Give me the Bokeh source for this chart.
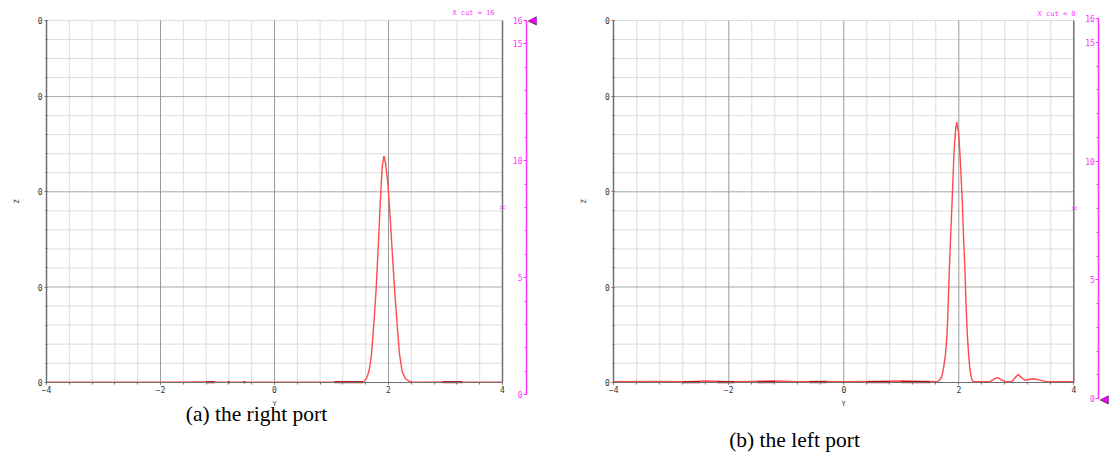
import numpy as np
from bokeh.plotting import figure
from bokeh.layouts import row
from bokeh.models import Range1d, LinearAxis, FixedTicker, Label
from bokeh.embed import file_html
from bokeh.resources import INLINE

# ---------------- data ----------------
# (a) the right port : field profile along Y at X cut = 16
x_a = [-4.0, -3.0, -2.0, -1.2, -1.1, -1.0, 0.0, 1.0, 1.3, 1.5, 1.57, 1.62, 1.66, 1.70,
       1.74, 1.78, 1.82, 1.86, 1.89, 1.92, 1.95, 1.99, 2.03, 2.07, 2.11, 2.15, 2.19,
       2.24, 2.30, 2.36, 2.42, 2.6, 3.0, 3.2, 4.0]
z_a = [0.0, 0.0, 0.0, 0.001, 0.001, 0.0, 0.0, 0.0, 0.001, 0.001, 0.002, 0.012, 0.030, 0.071,
       0.148, 0.236, 0.355, 0.485, 0.567, 0.594, 0.573, 0.520, 0.431, 0.331, 0.236, 0.154, 0.077,
       0.027, 0.009, 0.003, 0.001, 0.0, 0.001, 0.0, 0.0]
dark_a_x0 = [-1.2, -0.82, -0.55, 1.05, 2.95]
dark_a_x1 = [-1.05, -0.78, -0.51, 1.55, 3.3]

# (b) the left port : field profile along Y at X cut = 0
x_b = [-4.0, -3.3, -2.7, -2.4, -2.0, -1.6, -1.2, -0.8, -0.4, 0.0, 0.5, 1.0, 1.4, 1.63,
       1.68, 1.71, 1.737, 1.77, 1.796, 1.81, 1.837, 1.86, 1.884, 1.918, 1.945, 1.965,
       1.98, 1.995, 2.02, 2.04, 2.06, 2.08, 2.105, 2.125, 2.147, 2.17, 2.19, 2.21, 2.23,
       2.25, 2.40, 2.55, 2.62, 2.68, 2.74, 2.82, 2.92, 2.98, 3.035, 3.09, 3.15, 3.22,
       3.30, 3.40, 3.50, 3.70, 4.0]
z_b = [0.001, 0.002, 0.001, 0.003, 0.001, 0.002, 0.003, 0.001, 0.002, 0.001, 0.002, 0.003, 0.002, 0.001,
       0.008, 0.018, 0.039, 0.075, 0.127, 0.18, 0.302, 0.39, 0.477, 0.608, 0.665, 0.683,
       0.665, 0.660, 0.600, 0.54, 0.477, 0.39, 0.302, 0.21, 0.127, 0.075, 0.039, 0.018, 0.006,
       0.001, 0.001, 0.002, 0.009, 0.012, 0.006, 0.001, 0.002, 0.012, 0.020, 0.012, 0.005, 0.007,
       0.009, 0.006, 0.002, 0.001, 0.001]
dark_b_x0 = [-2.8, -2.2, -1.5, -0.6, 0.4, 1.0]
dark_b_x1 = [-2.5, -1.9, -1.2, -0.3, 0.8, 1.5]

# axes
y_ticks = [-4, -2, 0, 2, 4]
y_minor_ticks = [round(v, 2) for v in np.arange(-4.0, 4.01, 0.4)]
z_ticks = [0.0, 0.25, 0.5, 0.75, 0.95]
z_tick_labels = ["0", "0", "0", "0", "0"]
z_minor_ticks = [round(v, 3) for v in np.arange(0.0, 0.951, 0.05)]
xcut_ticks = [0, 5, 10, 15, 16]
xcut_tick_labels = ["0", "5", "10", "15", "16"]
xcut_minor_ticks = list(range(0, 17))
cut_a = 16
cut_b = 0
captions = ["(a) the right port", "(b) the left port"]

MAG = "#ff33ff"
MONO = "DejaVu Sans Mono"


def style_small(ax, color, label_color):
    ax.axis_label_text_font = MONO
    ax.axis_label_text_font_size = "7px"
    ax.axis_label_text_font_style = "normal"
    ax.axis_label_text_color = label_color
    ax.major_label_text_font = MONO
    ax.major_label_text_font_size = "8px"
    ax.major_label_text_color = label_color
    ax.axis_line_color = color
    ax.major_tick_line_color = color
    ax.minor_tick_line_color = color


def make_panel(xs, zs, d0, d1, cut, caption, *, width, x_rng, z_rng, m_rng,
               m_loc, title_xy, cap_xy, mark_x):
    p = figure(width=width, height=461, output_backend="svg", toolbar_location=None,
               x_range=Range1d(*x_rng), y_range=Range1d(*z_rng),
               min_border_left=0, min_border_right=0,
               min_border_top=0, min_border_bottom=0)
    p.outline_line_color = None
    p.xgrid.visible = False
    p.ygrid.visible = False
    p.extra_y_ranges = {"mag": Range1d(*m_rng)}

    zmax = z_ticks[-1]
    # grid drawn inside the Y/Z window only
    vx_minor = [v for v in y_minor_ticks if v not in y_ticks]
    vx_major = [v for v in y_ticks if v not in (y_ticks[0], y_ticks[-1])]
    hz_minor = [v for v in z_minor_ticks if v not in z_ticks] + [zmax]
    hz_major = [v for v in z_ticks if v not in (z_ticks[0], zmax)]
    p.segment(x0=vx_minor, x1=vx_minor, y0=0, y1=zmax, line_color="#dcdcdc", line_width=1)
    p.segment(x0=-4, x1=4, y0=hz_minor, y1=hz_minor, line_color="#dcdcdc", line_width=1)
    p.segment(x0=-4, x1=4, y0=hz_major, y1=hz_major, line_color="#a8a8a8", line_width=1)
    p.segment(x0=vx_major, x1=vx_major, y0=0, y1=zmax, line_color="#9a9a9a", line_width=1)
    p.segment(x0=[y_ticks[-1]], x1=[y_ticks[-1]], y0=0, y1=zmax, line_color="#707070", line_width=1.5)

    # curve
    p.line(xs, zs, line_color="#ff4a4a", line_width=1.4)
    p.segment(x0=d0, x1=d1, y0=0, y1=0, line_color="#a00000", line_width=2)

    # bottom axis (Y)
    ax = p.xaxis[0]
    ax.fixed_location = 0
    ax.bounds = (-4, 4)
    ax.ticker = FixedTicker(ticks=y_ticks, minor_ticks=y_minor_ticks)
    ax.axis_label = "Y"
    style_small(ax, "#707070", "#333333")
    ax.axis_label_standoff = 3
    ax.major_label_standoff = 2
    ax.major_tick_in = 0
    ax.major_tick_out = 2
    ax.minor_tick_in = 0
    ax.minor_tick_out = 2

    # left axis (Z)
    ay = p.yaxis[0]
    ay.fixed_location = -4
    ay.bounds = (0, zmax)
    ay.ticker = FixedTicker(ticks=z_ticks, minor_ticks=z_minor_ticks)
    ay.major_label_overrides = {t: l for t, l in zip(z_ticks, z_tick_labels)}
    ay.axis_label = "Z"
    style_small(ay, "#707070", "#333333")
    ay.axis_label_standoff = 14
    ay.major_label_standoff = 2
    ay.axis_line_width = 1.5
    ay.major_tick_in = 1
    ay.major_tick_out = 2
    ay.minor_tick_in = 1
    ay.minor_tick_out = 1

    # magenta axis (X cut position), labels on its left side
    am = LinearAxis(y_range_name="mag", bounds=(0, 16), fixed_location=m_loc,
                    ticker=FixedTicker(ticks=xcut_ticks, minor_ticks=xcut_minor_ticks))
    am.major_label_overrides = {t: l for t, l in zip(xcut_ticks, xcut_tick_labels)}
    am.axis_label = "X"
    style_small(am, MAG, MAG)
    am.axis_line_width = 1.5
    am.major_tick_in = 0
    am.major_tick_out = 3
    am.minor_tick_in = 0
    am.minor_tick_out = 2
    am.major_label_standoff = 1
    am.axis_label_standoff = 3
    p.add_layout(am, "left")

    p.add_layout(Label(x=title_xy[0], y=title_xy[1], y_range_name="mag",
                       text="X cut = %d" % cut, text_font=MONO, text_font_size="7px",
                       text_color=MAG, text_align="right", text_baseline="middle"))
    p.add_layout(Label(x=mark_x, y=cut, y_range_name="mag", text="\u25c0",
                       text_font="DejaVu Sans", text_font_size="12px", text_color="#602060",
                       text_align="left", text_baseline="middle"))
    p.add_layout(Label(x=mark_x, y=cut, y_range_name="mag", text="\u25c0", x_offset=1.5,
                       text_font="DejaVu Sans", text_font_size="9px", text_color="#ff00ff",
                       text_align="left", text_baseline="middle"))
    p.add_layout(Label(x=cap_xy[0], y=cap_xy[1], y_range_name="mag", text=caption,
                       text_font="Liberation Serif", text_font_size="21.5px", text_color="#000000",
                       text_align="center", text_baseline="middle"))
    return p


pa = make_panel(x_a, z_a, dark_a_x0, dark_a_x1, cut_a, captions[0], width=560,
                x_rng=(-4.807, 5.0175), z_rng=(-0.2082, 1.00236), m_rng=(-2.8663, 16.8556),
                m_loc=4.421, title_xy=(3.86, 16.3), cap_xy=(-0.316, -0.813), mark_x=4.439)
pb = make_panel(x_b, z_b, dark_b_x0, dark_b_x1, cut_b, captions[1], width=550,
                x_rng=(-4.927, 4.6383), z_rng=(-0.2083, 1.0025), m_rng=(-2.6526, 16.758),
                m_loc=4.435, title_xy=(4.03, 16.21), cap_xy=(-0.857, -1.768), mark_x=4.447)

layout = row(pa, pb)
open("out.html", "w").write(file_html(layout, INLINE))
